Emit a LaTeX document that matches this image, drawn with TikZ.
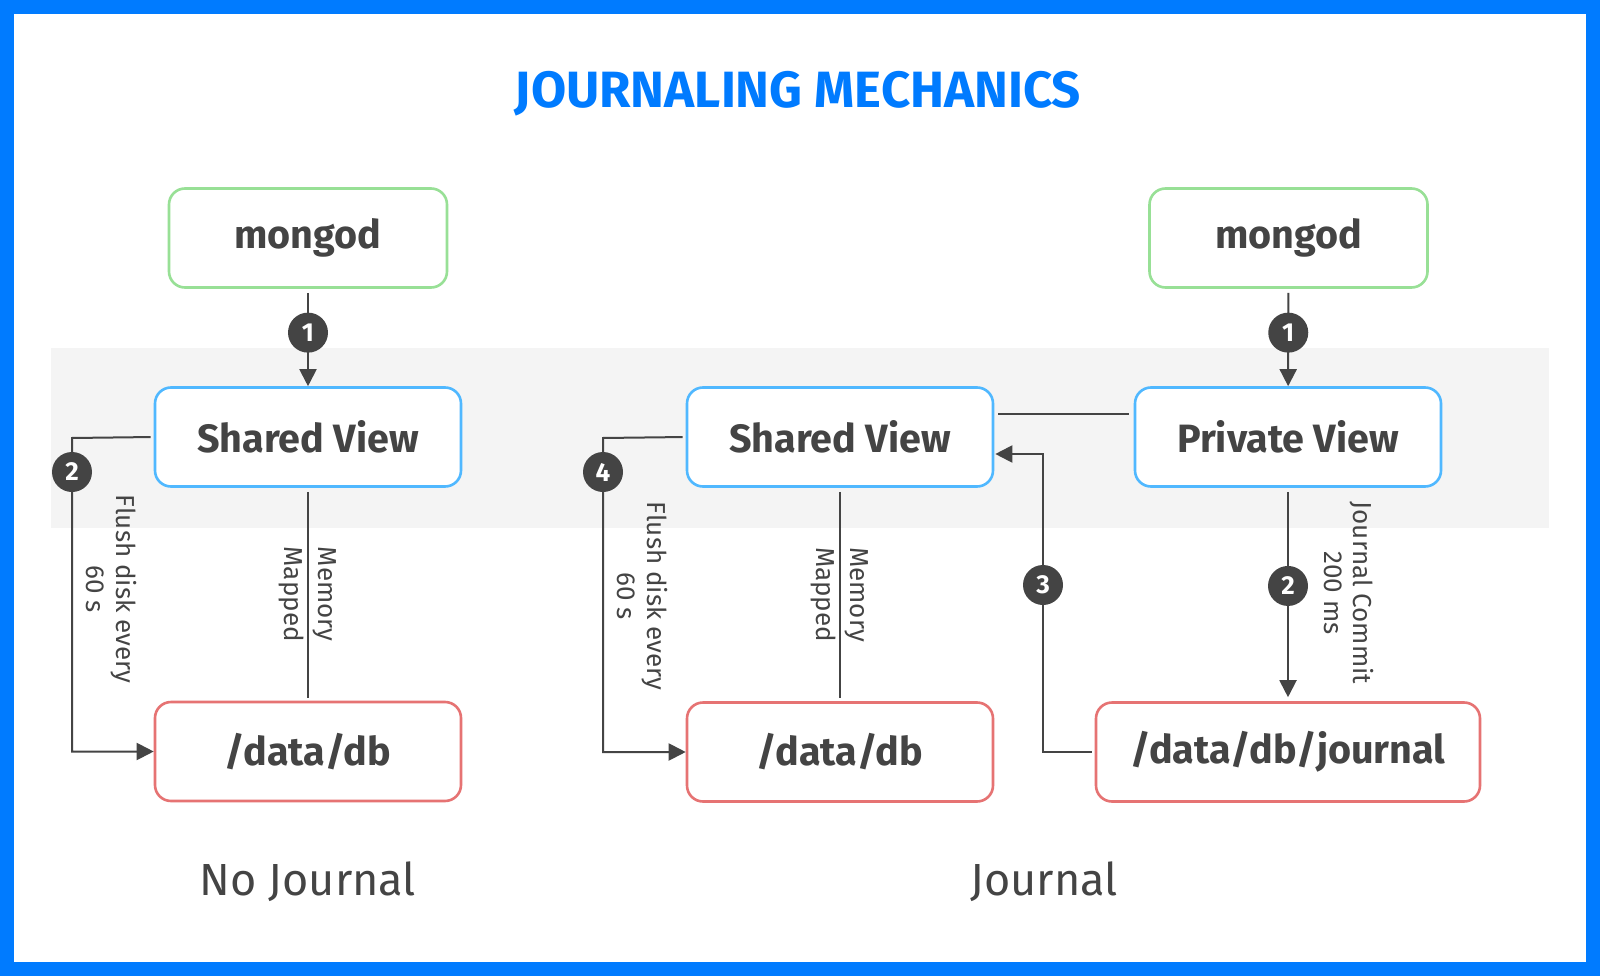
\documentclass[tikz,border=0pt]{standalone}
\usepackage{fontspec}
\setmainfont{Fira Sans}
\usetikzlibrary{arrows.meta,calc}
\definecolor{frameblue}{RGB}{0,123,255}
\definecolor{ink}{RGB}{68,68,68}
\definecolor{bandgray}{RGB}{244,244,244}
\definecolor{boxgreen}{RGB}{152,224,150}
\definecolor{boxblue}{RGB}{80,184,255}
\definecolor{boxred}{RGB}{230,115,115}
\begin{document}
\begin{tikzpicture}[x=1pt,y=-1pt,
  box/.style={draw, rounded corners=16pt, line width=2.6pt, fill=white, text=ink,
    font=\fontsize{39.5}{44}\selectfont\bfseries, minimum height=99pt, inner sep=0pt},
  conn/.style={draw=ink, line width=2pt},
  arr/.style={conn, -{Triangle[length=17pt,width=17pt]}},
  num/.style={circle, fill=ink, text=white, minimum size=40pt, inner sep=0pt,
    font=\fontsize{26}{26}\selectfont\bfseries},
  elabel/.style={text=ink, align=center, rotate=-90, inner sep=0pt}]
% frame and band
\fill[frameblue] (0,0) rectangle (1600,976);
\fill[white] (14,14) rectangle (1586,962);
\fill[bandgray] (51,348) rectangle (1549,528);
% title
\node[text=frameblue, font=\fontsize{51}{54}\selectfont\bfseries, anchor=base] (title) at (798,108) {JOURNALING MECHANICS};
% left boxes
\node[box, draw=boxgreen, minimum width=278pt] (mongodL) at (308,238) {mongod};
\node[box, draw=boxblue, minimum width=306pt] (sharedL) at (308,437) {Shared View};
\node[box, draw=boxred, minimum width=306pt] (dbL) at (308,751.5) {/data/db};
% middle / right boxes
\node[box, draw=boxblue, minimum width=306pt] (sharedM) at (840,437) {Shared View};
\node[box, draw=boxred, minimum width=306pt] (dbM) at (840,752) {/data/db};
\node[box, draw=boxgreen, minimum width=278pt] (mongodR) at (1288.5,238) {mongod};
\node[box, draw=boxblue, minimum width=306pt] (private) at (1288,437) {Private View};
\node[box, draw=boxred, minimum width=384pt] (journal) at (1288,752) {/data/db/journal};
% left connectors
\draw[arr, shorten <=4pt] (mongodL) -- node[num, pos=0.45] (n1L) {1} (sharedL);
\coordinate (fL) at (72,438);
\draw[arr, shorten <=3pt] (sharedL.west) -- (fL) |- (dbL.west);
\node[num] (n2L) at (72,472) {2};
\node[elabel, font=\fontsize{26}{30}\selectfont] (flL) at (111,589) {Flush disk every\\60 s};
\draw[conn, shorten <=4pt, shorten >=3pt] (sharedL) -- node[elabel, font=\fontsize{26}{34}\selectfont] (mmL) {Memory\\Mapped} (dbL);
% middle connectors
\coordinate (fM) at (603,438);
\draw[arr, shorten <=3pt] (sharedM.west) -- (fM) |- (dbM.west);
\node[num] (n4M) at (603,472) {4};
\node[elabel, font=\fontsize{26}{30}\selectfont] (flM) at (642.5,596) {Flush disk every\\60 s};
\draw[conn, shorten <=4pt, shorten >=3pt] (sharedM) -- node[elabel, font=\fontsize{26}{34}\selectfont] (mmM) {Memory\\Mapped} (dbM);
\draw[conn, shorten <=4pt, shorten >=5pt] ([yshift=23pt]sharedM.east) -- ([yshift=23pt]private.west);
\coordinate (k3) at (1043,454);
\draw[arr, shorten <=3pt, shorten >=1pt] (journal.west) -| (k3) -- (k3 -| sharedM.east);
\node[num] (n3M) at (1043,585) {3};
% right connectors
\draw[arr, shorten <=4pt] (mongodR) -- node[num, pos=0.45] (n1R) {1} (private);
\draw[arr, shorten <=4pt, shorten >=4pt] (private) -- node[num, pos=0.46] (n2R) {2} (journal);
\node[elabel, font=\fontsize{26}{29}\selectfont] (jc) at (1349,593) {Journal Commit\\200 ms};
% captions
\node[text=ink, font=\fontsize{45}{48}\selectfont, anchor=base] (cap1) at (308,895) {No Journal};
\node[text=ink, font=\fontsize{45}{48}\selectfont, anchor=base] (cap2) at (1044,895) {Journal};
\end{tikzpicture}
\end{document}
